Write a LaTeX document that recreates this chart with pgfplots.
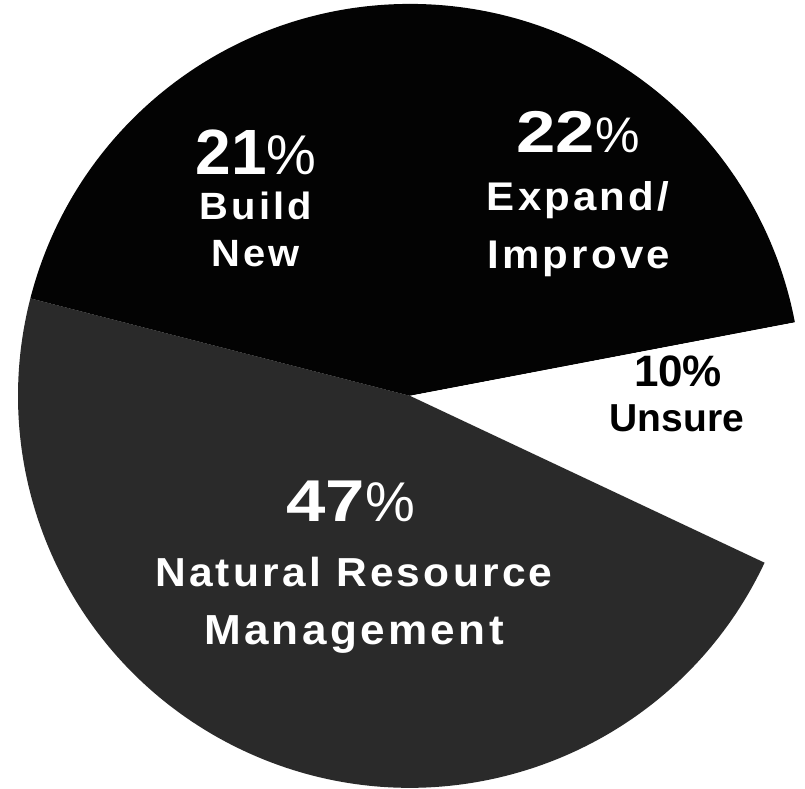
\documentclass[border=0pt]{standalone}
\usepackage{pgfplots}
\pgfplotsset{compat=1.18}
\usepackage{fontspec}
\setmainfont{Liberation Sans}
\newfontfamily\lab[LetterSpace=8,FakeStretch=1.05]{Liberation Sans}
\newfontfamily\num{Liberation Sans}
\newfontfamily\numwide[FakeStretch=1.2]{Liberation Sans}
\definecolor{slicedark}{HTML}{030303}
\definecolor{slicegray}{HTML}{2A2A2A}
% shares (percent), clockwise from 12 o'clock
\def\vExpand{22}
\def\vUnsure{10}
\def\vNatural{47}
\def\vBuild{21}
\pgfmathsetmacro\aStart{90}
\pgfmathsetmacro\aA{\aStart-3.6*\vExpand}
\pgfmathsetmacro\aB{\aA-3.6*\vUnsure}
\pgfmathsetmacro\aC{\aB-3.6*\vNatural}
\pgfmathsetmacro\aD{\aC-3.6*\vBuild}
\newcommand\slice[3]{%
  \fill[#3] (axis cs:0,0) -- (axis cs:{cos(#1)},{sin(#1)})
    arc[start angle=#1, end angle=#2, radius=196pt] -- cycle;}
\newcommand\bignum[2]{{\num\bfseries\fontsize{#1}{#1}\selectfont #2}}
\newcommand\widenum[2]{{\numwide\bfseries\fontsize{#1}{#1}\selectfont #2}}
\newcommand\pct[1]{{\num\fontsize{#1}{#1}\selectfont\%}}
\newcommand\word[1]{\lab\bfseries\fontsize{#1}{#1}\selectfont}
\begin{document}
\begin{tikzpicture}
\begin{axis}[
  name=ax,
  x=196pt, y=196pt,
  xmin=-1.046, xmax=1.008, ymin=-1.003, ymax=1.010,
  hide axis, clip=false,
]
\fill[white] (rel axis cs:0,0) rectangle (rel axis cs:1,1);
\slice{\aStart}{\aA}{slicedark}
\slice{\aA}{\aB}{white}
\slice{\aB}{\aC}{slicegray}
\slice{\aC}{\aD}{slicedark}
% labels
\node[anchor=base, white, inner sep=0pt] at (axis cs:-0.393,0.566) {\bignum{32pt}{21}\pct{28pt}};
\node[anchor=base, white, inner sep=0pt] at (axis cs:-0.393,0.449) {\word{19pt}Build};
\node[anchor=base, white, inner sep=0pt] at (axis cs:-0.393,0.329) {\word{19pt}New};
\node[anchor=base, white, inner sep=0pt] at (axis cs:0.429,0.622) {\widenum{29.5pt}{22}\pct{25pt}};
\node[anchor=base, white, inner sep=0pt] at (axis cs:0.429,0.472) {\word{20pt}Expand/};
\node[anchor=base, white, inner sep=0pt] at (axis cs:0.431,0.324) {\word{20pt}Improve};
\node[anchor=base, black, inner sep=0pt] at (axis cs:0.684,0.023) {\bignum{22pt}{10\%}};
\node[anchor=base, black, inner sep=0pt] at (axis cs:0.681,-0.092) {\num\bfseries\fontsize{19.5pt}{19.5pt}\selectfont Unsure};
\node[anchor=base, white, inner sep=0pt] at (axis cs:-0.151,-0.321) {\widenum{29.5pt}{47}\pct{28pt}};
\node[anchor=base, white, inner sep=0pt] at (axis cs:-0.143,-0.487) {\word{20.25pt}Natural Resource};
\node[anchor=base, white, inner sep=0pt] at (axis cs:-0.143,-0.635) {\word{21pt}Management};
\end{axis}
\pgfresetboundingbox
\path[use as bounding box] (ax.south west) rectangle (ax.north east);
\end{tikzpicture}
\end{document}
